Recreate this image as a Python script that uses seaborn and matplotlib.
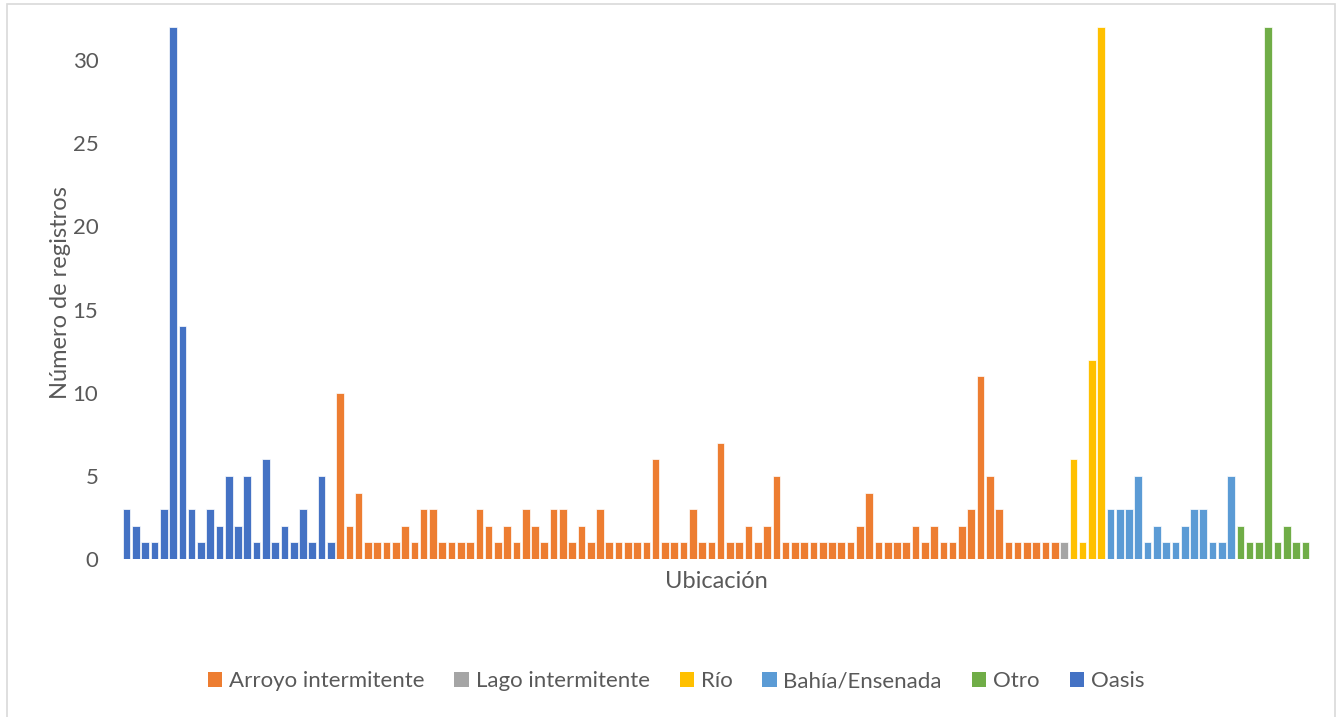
import matplotlib
matplotlib.use("Agg")
import matplotlib.pyplot as plt
from matplotlib.patches import Rectangle, Patch
import seaborn as sns
import pandas as pd

# Number of records per location, grouped by type of water body
oasis = [3, 2, 1, 1, 3, 32, 14, 3, 1, 3, 2, 5, 2, 5, 1, 6, 1, 2, 1, 3, 1, 5, 1]
arroyo = [10, 2, 4, 1, 1, 1, 1, 2, 1, 3,
          3, 1, 1, 1, 1, 3, 2, 1, 2, 1,
          3, 2, 1, 3, 3, 1, 2, 1, 3, 1,
          1, 1, 1, 1, 6, 1, 1, 1, 3, 1,
          1, 7, 1, 1, 2, 1, 2, 5, 1, 1,
          1, 1, 1, 1, 1, 1, 2, 4, 1, 1,
          1, 1, 2, 1, 2, 1, 1, 2, 3, 11,
          5, 3, 1, 1, 1, 1, 1, 1]
lago = [1]
rio = [6, 1, 12, 32]
bahia = [3, 3, 3, 5, 1, 2, 1, 1, 2, 3, 3, 1, 1, 5]
otro = [2, 1, 1, 32, 1, 2, 1, 1]

groups = [("Oasis", oasis), ("Arroyo intermitente", arroyo),
          ("Lago intermitente", lago), ("Río", rio),
          ("Bahía/Ensenada", bahia), ("Otro", otro)]
legend_order = ["Arroyo intermitente", "Lago intermitente", "Río",
                "Bahía/Ensenada", "Otro", "Oasis"]
colors = {"Arroyo intermitente": "#ED7D31", "Lago intermitente": "#A5A5A5",
          "Río": "#FFC000", "Bahía/Ensenada": "#5B9BD5", "Otro": "#70AD47",
          "Oasis": "#4472C4"}

rows = []
for cat, vals in groups:
    for v in vals:
        rows.append({"pos": len(rows), "cat": cat, "n": v})
df = pd.DataFrame(rows)

sns.set_theme(style="white")
plt.rcParams["font.family"] = ["Lato", "DejaVu Sans"]
text_color = "#595959"

W, H = 1338, 717
fig = plt.figure(figsize=(W / 100, H / 100), dpi=100)
ax = fig.add_axes([122 / W, (H - 559) / H, 1188 / W, 532 / H])

sns.barplot(data=df, x="pos", y="n", hue="cat", dodge=False, palette=colors,
            saturation=1, width=0.82, edgecolor="#ffffff", linewidth=0.5,
            legend=False, ax=ax)

ax.set_xlim(-0.5, len(df) - 0.5)
ax.set_ylim(0, 32)
ax.set_yticks(range(0, 31, 5))
ax.set_xticks([])
ax.tick_params(axis="y", length=0, pad=17, labelsize=16, labelcolor=text_color)
for s in ax.spines.values():
    s.set_visible(False)
ax.set_xlabel("Ubicación", fontsize=17, color=text_color, labelpad=9)
ax.set_ylabel("Número de registros", fontsize=17, color=text_color, labelpad=1)

handles = [Patch(facecolor=colors[c], edgecolor="none", label=c) for c in legend_order]
fig.legend(handles=handles, loc="center", bbox_to_anchor=(676 / W, 1 - 681 / H),
           ncol=6, frameon=False, fontsize=16, labelcolor=text_color,
           handlelength=0.65, handleheight=0.65, handletextpad=0.3,
           columnspacing=1.35)

# Light chart-area border
fig.patches.append(Rectangle((7 / W, -0.01), (1335 - 7) / W, 1 - 4 / H + 0.01,
                             transform=fig.transFigure, fill=False,
                             edgecolor="#D9D9D9", linewidth=1.2))

fig.savefig("out.png", dpi=100, facecolor="white")
